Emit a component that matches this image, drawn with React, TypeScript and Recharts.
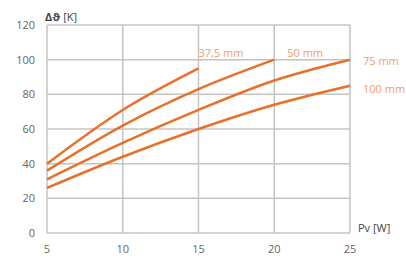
import { LineChart, Line, XAxis, YAxis, CartesianGrid } from 'recharts';

const xTicks = [5, 10, 15, 20, 25];
const yTicks = [0, 20, 40, 60, 80, 100, 120];

const pv375 = [5, 10, 15];
const dt375 = [40, 71, 95];
const pv50 = [5, 10, 15, 20];
const dt50 = [36, 62, 83, 100];
const pv75 = [5, 10, 15, 20, 25];
const dt75 = [31, 52, 71, 88, 100];
const pv100 = [5, 10, 15, 20, 25];
const dt100 = [26, 44, 60, 74, 85];

const toRows = (xs: number[], ys: number[]) => xs.map((x, i) => ({ x, y: ys[i] }));

const series = [
    { name: '37,5 mm', data: toRows(pv375, dt375), dx: 0, dy: -11 },
    { name: '50 mm', data: toRows(pv50, dt50), dx: 13, dy: -3 },
    { name: '75 mm', data: toRows(pv75, dt75), dx: 13, dy: 5 },
    { name: '100 mm', data: toRows(pv100, dt100), dx: 13, dy: 7 },
];

const LINE = '#e8702a';
const TEXT = '#eb9f6a';
const font = '"Open Sans", sans-serif';

function endLabel(name: string, last: number, dx: number, dy: number) {
    return (props: any) => {
        if (props.index !== last) return null;
        return (
            <text x={props.x + dx} y={props.y + dy} fill={TEXT} fontSize={11} fontFamily={font}>
                {name}
            </text>
        );
    };
}

export default function App() {
    return (
        <div style={{ position: 'absolute', left: 0, top: 0, width: 406, height: 261, background: '#fff' }}>
            <LineChart width={406} height={261} margin={{ top: 25, right: 56, left: 7, bottom: 8 }}>
                <CartesianGrid stroke="#c4c4c4" strokeWidth={1.5} />
                <XAxis
                    type="number"
                    dataKey="x"
                    domain={[5, 25]}
                    ticks={xTicks}
                    axisLine={false}
                    tickLine={false}
                    height={20}
                    tick={{ fill: '#666', fontSize: 11, fontFamily: font }}
                    tickMargin={6}
                />
                <YAxis
                    type="number"
                    domain={[0, 120]}
                    ticks={yTicks}
                    axisLine={false}
                    tickLine={false}
                    width={40}
                    tick={{ fill: '#666', fontSize: 11, fontFamily: font }}
                    tickMargin={6}
                />
                {series.map((s) => (
                    <Line
                        key={s.name}
                        data={s.data}
                        dataKey="y"
                        type="monotone"
                        stroke={LINE}
                        strokeWidth={2.5}
                        dot={false}
                        isAnimationActive={false}
                        label={endLabel(s.name, s.data.length - 1, s.dx, s.dy)}
                    />
                ))}
                <text x={45} y={21} fill="#444" fontSize={11} fontFamily={font}>
                    <tspan fontWeight="bold">Δϑ</tspan> [K]
                </text>
                <text x={358} y={232} fill="#444" fontSize={11} fontFamily={font}>
                    Pv [W]
                </text>
            </LineChart>
        </div>
    );
}
